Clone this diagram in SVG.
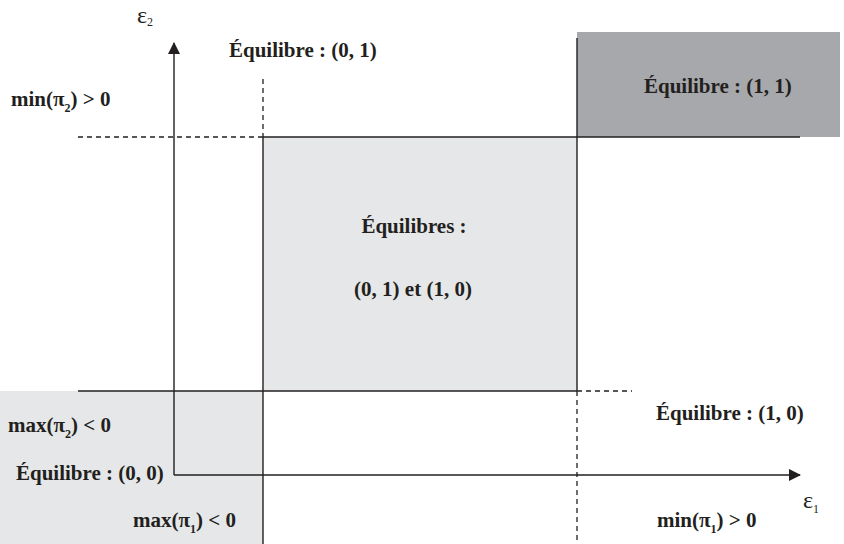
<svg xmlns="http://www.w3.org/2000/svg" width="844" height="544" viewBox="0 0 844 544">
<style>
.t{font-family:"Liberation Serif","Times New Roman",serif;font-weight:bold;font-size:21px;fill:#231f20}
.s{font-size:12px}
.e{font-family:"Liberation Serif","Times New Roman",serif;font-size:24px;fill:#231f20}
.ln{stroke:#231f20;stroke-width:1.4;fill:none}
.d{stroke:#231f20;stroke-width:1.3;fill:none;stroke-dasharray:5 4}
</style>
<defs>
<marker id="ah" viewBox="0 0 12 12" refX="11" refY="6" markerWidth="12" markerHeight="12" markerUnits="userSpaceOnUse" orient="auto">
<path d="M0,0 L12,6 L0,12 Z" fill="#231f20"/>
</marker>
</defs>
<rect width="844" height="544" fill="#ffffff"/>
<g id="region-00">
<rect x="0" y="391" width="263" height="153" fill="#e6e7e8"/>
</g>
<g id="region-both">
<rect x="263" y="137" width="314" height="254" fill="#e6e7e8"/>
</g>
<g id="region-11">
<rect x="577" y="32" width="263" height="105" fill="#a7a8ab"/>
</g>
<g id="connectors">
<line class="ln" x1="174" y1="475" x2="174" y2="43" marker-end="url(#ah)"/>
<line class="ln" x1="174" y1="475" x2="800" y2="475" marker-end="url(#ah)"/>
<line class="d" x1="78" y1="137" x2="263" y2="137"/>
<line class="ln" x1="263" y1="137" x2="800" y2="137"/>
<line class="ln" x1="78" y1="391" x2="577" y2="391"/>
<line class="d" x1="577" y1="391" x2="632" y2="391"/>
<line class="d" x1="263" y1="79" x2="263" y2="137"/>
<line class="ln" x1="263" y1="137" x2="263" y2="544"/>
<line class="ln" x1="577" y1="38" x2="577" y2="391"/>
<line class="d" x1="577" y1="391" x2="577" y2="544"/>
</g>
<g id="labels">
<text class="e" x="137" y="23">ε<tspan dy="3" font-size="12">2</tspan></text>
<text class="e" x="803" y="508">ε<tspan dy="5" font-size="12">1</tspan></text>
<text class="t" x="229" y="57">Équilibre : (0, 1)</text>
<text class="t" x="11" y="106">min(π<tspan class="s" dy="6">2</tspan><tspan dy="-6">) &gt; 0</tspan></text>
<text class="t" x="644" y="93">Équilibre : (1, 1)</text>
<text class="t" x="414" y="233" text-anchor="middle">Équilibres :</text>
<text class="t" x="413" y="296" text-anchor="middle">(0, 1) et (1, 0)</text>
<text class="t" x="656" y="420">Équilibre : (1, 0)</text>
<text class="t" x="8" y="432">max(π<tspan class="s" dy="6">2</tspan><tspan dy="-6">) &lt; 0</tspan></text>
<text class="t" x="16" y="480">Équilibre : (0, 0)</text>
<text class="t" x="133" y="527">max(π<tspan class="s" dy="6">1</tspan><tspan dy="-6">) &lt; 0</tspan></text>
<text class="t" x="657" y="527">min(π<tspan class="s" dy="6">1</tspan><tspan dy="-6">) &gt; 0</tspan></text>
</g>
</svg>
